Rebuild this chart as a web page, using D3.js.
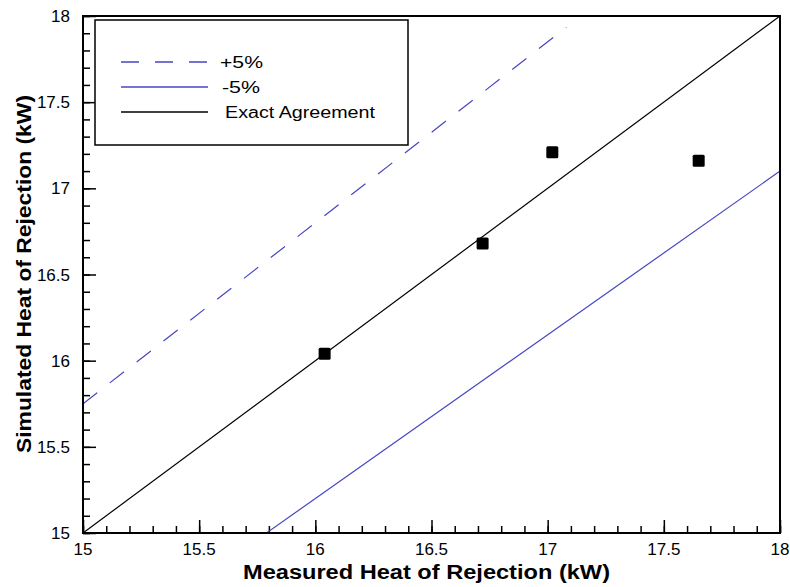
<!DOCTYPE html>
<html>
<head>
<meta charset="utf-8">
<script src="https://cdn.jsdelivr.net/npm/d3@7"></script>
<style>
body { margin: 0; background: #fff; }
text { font-family: "Liberation Sans", Arial, sans-serif; }
</style>
</head>
<body>
<div id="chart"></div>
<script>
// measured vs simulated heat of rejection (kW)
var measured = [16.04, 16.72, 17.02, 17.65];
var simulated = [16.04, 16.68, 17.21, 17.16];

// reference lines: ratio and x range
var lineNames = ["+5%", "-5%", "Exact Agreement"];
var lineRatios = [1.05, 0.95, 1.0];
var lineXStart = [15, 15.79, 15];
var lineXEnd = [17.08, 18, 18];

var majorTicks = [15, 15.5, 16, 16.5, 17, 17.5, 18];
var tickLabels = ["15", "15.5", "16", "16.5", "17", "17.5", "18"];

var svgWidth = 790, svgHeight = 587;
var margin = {top: 16, right: 10, bottom: 54, left: 83};
var chartWidth = svgWidth - margin.left - margin.right;
var chartHeight = svgHeight - margin.top - margin.bottom;

var svg = d3.select("#chart").append("svg")
  .attr("width", svgWidth)
  .attr("height", svgHeight);

var g = svg.append("g")
  .attr("transform", `translate(${margin.left}, ${margin.top})`);

var x = d3.scaleLinear().domain([15, 18]).range([0, chartWidth]);
var y = d3.scaleLinear().domain([15, 18]).range([chartHeight, 0]);

var minorTicks = d3.range(15, 18.001, 0.1).map(v => +v.toFixed(1));

// minor ticks (inward)
g.append("g")
  .attr("transform", `translate(0, ${chartHeight})`)
  .call(d3.axisTop(x).tickValues(minorTicks).tickSize(7).tickFormat(""))
  .call(a => a.select(".domain").remove());
g.append("g")
  .call(d3.axisRight(y).tickValues(minorTicks).tickSize(7).tickFormat(""))
  .call(a => a.select(".domain").remove());

// major ticks
g.append("g")
  .attr("transform", `translate(0, ${chartHeight})`)
  .call(d3.axisTop(x).tickValues(majorTicks).tickSize(13).tickFormat(""))
  .call(a => a.select(".domain").remove());
g.append("g")
  .call(d3.axisRight(y).tickValues(majorTicks).tickSize(13).tickFormat(""))
  .call(a => a.select(".domain").remove());

g.selectAll(".tick line").attr("stroke", "#000").attr("stroke-width", 1.5);

// tick labels
g.selectAll(".xlab").data(majorTicks).enter().append("text")
  .attr("x", d => x(d))
  .attr("y", chartHeight + 22)
  .attr("text-anchor", "middle")
  .attr("font-size", "17px")
  .text((d, i) => tickLabels[i]);

g.selectAll(".ylab").data(majorTicks).enter().append("text")
  .attr("x", -13)
  .attr("y", d => y(d) + 6)
  .attr("text-anchor", "end")
  .attr("font-size", "17px")
  .text((d, i) => tickLabels[i]);

// clip for lines
svg.append("clipPath").attr("id", "clip")
  .append("rect").attr("width", chartWidth).attr("height", chartHeight);

var colors = ["#4646c3", "#4646c3", "#000"];
var dashes = ["18,16", null, null];

var lineGen = d3.line().x(d => x(d[0])).y(d => y(d[1]));

var lines = g.append("g").attr("clip-path", "url(#clip)");
lineNames.forEach(function(name, i) {
  lines.append("path")
    .datum([[lineXStart[i], lineXStart[i] * lineRatios[i]], [lineXEnd[i], lineXEnd[i] * lineRatios[i]]])
    .attr("d", lineGen)
    .attr("fill", "none")
    .attr("stroke", colors[i])
    .attr("stroke-width", 1.2)
    .attr("stroke-dasharray", dashes[i]);
});

// points
g.selectAll(".pt").data(measured).enter().append("rect")
  .attr("x", d => x(d) - 6)
  .attr("y", (d, i) => y(simulated[i]) - 6)
  .attr("width", 12)
  .attr("height", 12)
  .attr("rx", 1.5)
  .attr("fill", "#000");

// frame
g.append("rect")
  .attr("width", chartWidth)
  .attr("height", chartHeight)
  .attr("fill", "none")
  .attr("stroke", "#000")
  .attr("stroke-width", 2);

// legend
var legend = g.append("g").attr("transform", "translate(12, 4)");
legend.append("rect")
  .attr("width", 313)
  .attr("height", 125)
  .attr("fill", "#fff")
  .attr("stroke", "#000")
  .attr("stroke-width", 1.5);
var legendTextX = [125, 127, 130];
var legendTextW = [43, 38, 150];
lineNames.forEach(function(name, i) {
  var ly = 42 + i * 25;
  legend.append("line")
    .attr("x1", 26).attr("x2", 113)
    .attr("y1", ly).attr("y2", ly)
    .attr("stroke", colors[i])
    .attr("stroke-width", 1.3)
    .attr("stroke-dasharray", dashes[i]);
  legend.append("text")
    .attr("x", legendTextX[i])
    .attr("y", ly + 6)
    .attr("font-size", "16px")
    .attr("textLength", legendTextW[i])
    .attr("lengthAdjust", "spacingAndGlyphs")
    .text(name);
});

// axis titles
svg.append("text")
  .attr("x", 243)
  .attr("y", 579)
  .attr("font-size", "20px")
  .attr("font-weight", "bold")
  .attr("textLength", 367)
  .attr("lengthAdjust", "spacingAndGlyphs")
  .text("Measured Heat of Rejection (kW)");

svg.append("text")
  .attr("transform", "rotate(-90)")
  .attr("x", -453)
  .attr("y", 31)
  .attr("font-size", "20px")
  .attr("font-weight", "bold")
  .attr("textLength", 358)
  .attr("lengthAdjust", "spacingAndGlyphs")
  .text("Simulated Heat of Rejection (kW)");
</script>
</body>
</html>
